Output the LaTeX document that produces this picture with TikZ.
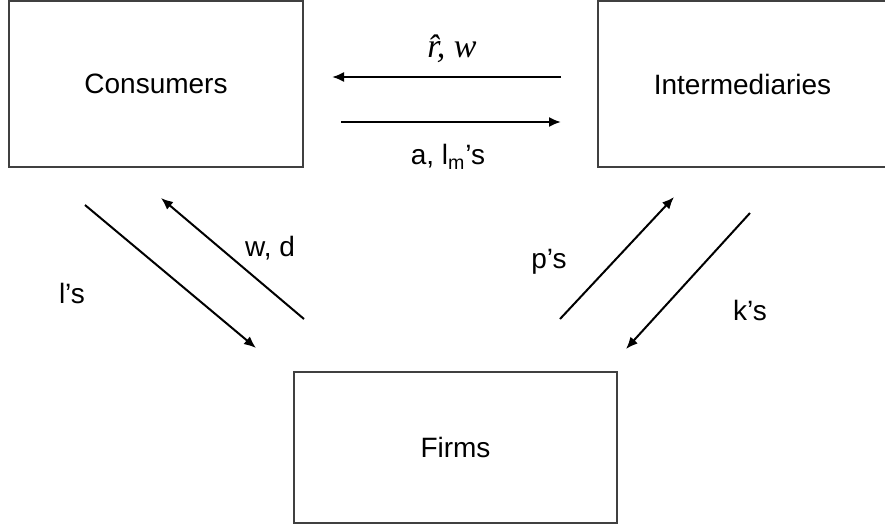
\documentclass[tikz,border=0pt]{standalone}
\usepackage{fontspec}
\setmainfont{Liberation Sans}
\newfontfamily\serifit{Liberation Serif}
\usetikzlibrary{arrows.meta}

\tikzset{
  sector/.style={draw=black!75,line width=0.7pt,inner sep=0pt,
    font=\fontsize{14}{16}\selectfont},
  flow/.style={-{Latex[length=6pt,width=5pt]},line width=1pt},
  lbl/.style={inner sep=0pt,font=\fontsize{14}{16}\selectfont}
}

\begin{document}
\begin{tikzpicture}[x=0.5pt,y=-0.5pt]

\useasboundingbox (0,0) rectangle (885,527);

% Sectors
\node[sector,minimum width=147pt,minimum height=83pt] (cons) at (156,84) {Consumers};
\node[sector,minimum width=144.5pt,minimum height=83pt] (inter) at (742.5,84) {Intermediaries};
\node[sector,minimum width=161.5pt,minimum height=75.5pt] (firms) at (455.5,447.5) {Firms};

% Consumers <-> Intermediaries
\coordinate (rw-s) at (561,77);
\coordinate (rw-e) at (332,77);
\coordinate (al-s) at (341,122);
\coordinate (al-e) at (561,122);
\draw[flow] (rw-s) -- (rw-e);
\draw[flow] (al-s) -- (al-e);
\node[lbl,font=\fontsize{17}{19}\selectfont] (rw) at (452,49) {{\serifit\itshape\^{r}, w}};
\node[lbl] (al) at (448,157) {a, l\textsubscript{m}’s};

% Consumers <-> Firms
\coordinate (ls-s) at (85,205);
\coordinate (ls-e) at (256,348);
\coordinate (wd-s) at (304,319);
\coordinate (wd-e) at (161,198);
\draw[flow] (ls-s) -- (ls-e);
\draw[flow] (wd-s) -- (wd-e);
\node[lbl] (ls) at (72,293) {l’s};
\node[lbl] (wd) at (270,248) {w, d};

% Firms <-> Intermediaries
\coordinate (ps-s) at (560,319);
\coordinate (ps-e) at (674,197);
\coordinate (ks-s) at (750,213);
\coordinate (ks-e) at (626,349);
\draw[flow] (ps-s) -- (ps-e);
\draw[flow] (ks-s) -- (ks-e);
\node[lbl] (ps) at (549,262) {p’s};
\node[lbl] (ks) at (750,310) {k’s};

\end{tikzpicture}
\end{document}
